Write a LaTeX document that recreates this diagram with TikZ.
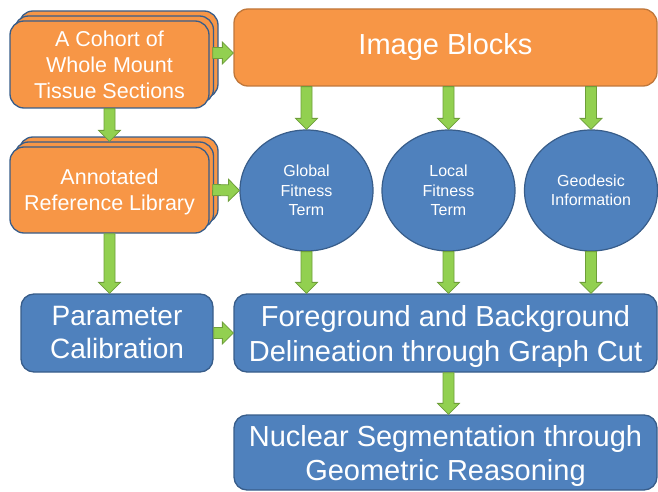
\documentclass[tikz,border=0pt]{standalone}
\usepackage{fontspec}
\setmainfont{Liberation Sans}
\usetikzlibrary{calc,shapes.geometric,shadows}

\definecolor{boxorange}{HTML}{F79646}
\definecolor{orangeedge}{HTML}{C0773A}
\definecolor{boxblue}{HTML}{4F81BD}
\definecolor{edgeblue}{HTML}{385D8A}
\definecolor{arrowfill}{HTML}{92D050}
\definecolor{arrowline}{HTML}{6E9E3A}

\tikzset{
  stackbox/.style={rectangle, rounded corners=14pt, fill=boxorange, draw=edgeblue,
    line width=1.3pt, text=white, align=center, inner sep=0pt,
    minimum width=199pt,
    general shadow={shadow xshift=9pt, shadow yshift=10pt, fill=boxorange, draw=edgeblue},
    general shadow={shadow xshift=4.5pt, shadow yshift=5pt, fill=boxorange, draw=edgeblue},
    font=\fontsize{21.5}{26}\selectfont},
  headbox/.style={rectangle, rounded corners=14pt, fill=boxorange, draw=orangeedge,
    line width=1.3pt, text=white, align=center, inner sep=0pt,
    font=\fontsize{29}{35}\selectfont},
  bluebox/.style={rectangle, rounded corners=13pt, fill=boxblue, draw=edgeblue,
    line width=1.3pt, text=white, align=center, inner sep=0pt},
  term/.style={ellipse, fill=boxblue, draw=edgeblue, line width=1.2pt, text=white,
    align=center, inner sep=0pt, minimum width=133pt, minimum height=121pt,
    font=\fontsize{16}{19.5}\selectfont},
  flow/.style={draw=arrowline, fill=arrowfill, line width=0.8pt, line join=miter,
    to path={
      let \p1=(\tikztostart), \p2=(\tikztotarget), \p3=($(\p2)!11pt!(\p1)$) in
      ($(\p1)!5.5pt!90:(\p2)$) -- ($(\p3)!5.5pt!90:(\p2)$) -- ($(\p3)!11pt!90:(\p2)$)
      -- (\p2) -- ($(\p3)!11pt!-90:(\p2)$) -- ($(\p3)!5.5pt!-90:(\p2)$)
      -- ($(\p1)!5.5pt!-90:(\p2)$) -- cycle
    }},
}

\begin{document}
\begin{tikzpicture}[x=1pt, y=-1pt]
  \useasboundingbox (0,0) rectangle (658,492);

  % inputs
  \node[stackbox, minimum height=87pt] (cohort) at (109.5,64.5)
    {A Cohort of\\Whole Mount\\Tissue Sections};
  \node[stackbox, minimum height=86pt, text depth=0pt] (annot) at (109.5,190)
    {Annotated\\Reference Library};
  \node[headbox, minimum width=423pt, minimum height=77pt] (blocks) at (445.5,47.5)
    {Image Blocks};

  % energy terms
  \node[term] (glob) at (306.5,190.5) {Global\\Fitness\\Term};
  \node[term] (loc) at (448.5,190.5) {Local\\Fitness\\Term};
  \node[term] (geo) at (591,190.5) {Geodesic\\Information};

  % processing stages
  \node[bluebox, minimum width=192pt, minimum height=78pt,
    font=\fontsize{28}{33}\selectfont] (param) at (117,333)
    {Parameter\\Calibration};
  \node[bluebox, minimum width=423pt, minimum height=78pt, text depth=0pt,
    font=\fontsize{29}{35}\selectfont] (fg) at (445.5,333)
    {Foreground and Background\\Delineation through Graph Cut};
  \node[bluebox, minimum width=423pt, minimum height=75pt, text depth=0pt,
    font=\fontsize{29}{34}\selectfont] (nuc) at (445.5,452.5)
    {Nuclear Segmentation through\\Geometric Reasoning};

  % connectors
  \path[flow] ([xshift=3pt,yshift=11.5pt]cohort.east) to ([yshift=11.5pt]cohort.east -| blocks.west);
  \path[flow] (cohort.south) to ([yshift=5pt]annot.north);
  \path[flow] ([xshift=3pt]annot.east) to (glob.west);
  \path[flow] (annot.south) to (annot.south |- param.north);
  \path[flow] (param.east) to (fg.west);
  \path[flow] (glob |- blocks.south) to (glob.north);
  \path[flow] (loc |- blocks.south) to (loc.north);
  \path[flow] (geo |- blocks.south) to (geo.north);
  \path[flow] (glob.south) to (glob |- fg.north);
  \path[flow] (loc.south) to (loc |- fg.north);
  \path[flow] (geo.south) to (geo |- fg.north);
  \path[flow] (loc |- fg.south) to (loc |- nuc.north);
\end{tikzpicture}
\end{document}
